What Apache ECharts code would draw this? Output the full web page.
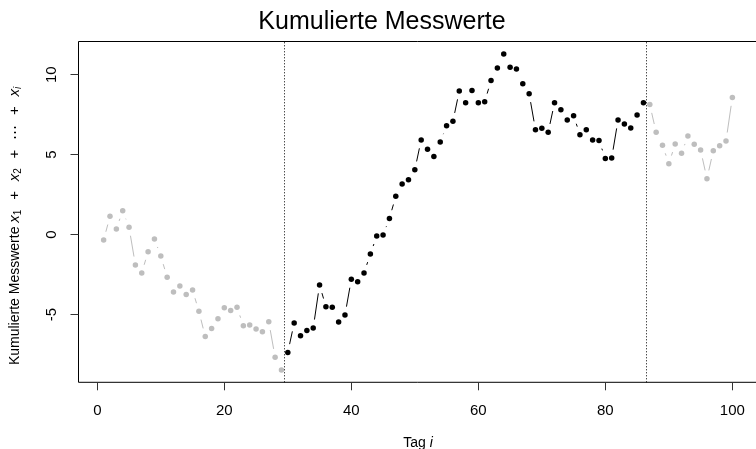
<!DOCTYPE html>
<html>
<head>
<meta charset="utf-8">
<script src="https://cdn.jsdelivr.net/npm/echarts@6/dist/echarts.min.js"></script>
<style>
html,body{margin:0;padding:0;background:#fff;}
#chart{width:756px;height:449px;}
</style>
</head>
<body>
<div id="chart"></div>
<script>
// ---- data ----
const kumuliert = [
  -0.33, 1.15, 0.36, 1.50, 0.46, -1.89, -2.39, -1.06, -0.27, -1.33,
  -2.66, -3.58, -3.21, -3.73, -3.46, -4.79, -6.37, -5.87, -5.25, -4.56,
  -4.73, -4.54, -5.69, -5.64, -5.89, -6.06, -5.44, -7.66, -8.46, -7.36,
  -5.52, -6.31, -5.98, -5.83, -3.14, -4.50, -4.54, -5.46, -5.02, -2.79,
  -2.94, -2.39, -1.21, -0.08, -0.02, 1.02, 2.40, 3.17, 3.44, 4.06,
  5.92, 5.34, 4.88, 5.79, 6.81, 7.09, 8.98, 8.25, 9.02, 8.25,
  8.31, 9.63, 10.42, 11.29, 10.46, 10.36, 9.44, 8.81, 6.56, 6.65,
  6.40, 8.25, 7.81, 7.17, 7.44, 6.25, 6.56, 5.92, 5.88, 4.77,
  4.79, 7.17, 6.92, 6.67, 7.48, 8.25, 8.13, 6.40, 5.59, 4.44,
  5.67, 5.09, 6.17, 5.65, 5.29, 3.50, 5.25, 5.56, 5.86, 8.58
];
const grenzen = [29.5, 86.5];          // dotted vertical lines
const xTicks = [0, 20, 40, 60, 80, 100];
const yTicks = [-5, 0, 5, 10];

// ---- build groups ----
const GRAY = '#BEBEBE', BLACK = '#000000';
const pts = kumuliert.map((v, i) => [i + 1, v]);
const inside = p => p[0] > grenzen[0] && p[0] < grenzen[1];
const groups = [
  { color: GRAY, data: pts.filter(p => p[0] < grenzen[0]) },
  { color: BLACK, data: pts.filter(inside) },
  { color: GRAY, data: pts.filter(p => p[0] > grenzen[1]) }
];
function segs(d) {
  const out = [];
  for (let k = 0; k < d.length - 1; k++) out.push([d[k][0], d[k][1], d[k + 1][0], d[k + 1][1]]);
  return out;
}
const GAP = 8.5;
function segRenderer(color) {
  return function (params, api) {
    const a = api.coord([api.value(0), api.value(1)]);
    const b = api.coord([api.value(2), api.value(3)]);
    const dx = b[0] - a[0], dy = b[1] - a[1];
    const d = Math.hypot(dx, dy);
    if (d <= 2 * GAP) return { type: 'group', children: [] };
    const ux = dx / d, uy = dy / d;
    return {
      type: 'line',
      shape: { x1: a[0] + ux * GAP, y1: a[1] + uy * GAP, x2: b[0] - ux * GAP, y2: b[1] - uy * GAP },
      style: { stroke: color, lineWidth: 1 }
    };
  };
}

const FONT = 'Liberation Sans, Arial, Helvetica, sans-serif';
const series = [];
groups.forEach((g, gi) => {
  series.push({
    type: 'custom',
    renderItem: segRenderer(g.color),
    data: segs(g.data),
    encode: { x: [0, 2], y: [1, 3] },
    silent: true,
    z: 2
  });
  const sc = {
    type: 'scatter',
    data: g.data,
    symbol: 'circle',
    symbolSize: 5.5,
    itemStyle: { color: g.color, opacity: 1 },
    silent: true,
    z: 3
  };
  if (gi === 1) {
    sc.markLine = {
      silent: true,
      symbol: 'none',
      label: { show: false },
      lineStyle: { type: [1, 2], color: '#000', width: 1 },
      data: grenzen.map(v => ({ xAxis: v }))
    };
  }
  series.push(sc);
});

const SP = '\u2002\u2009';
const PLUS = SP + '{m|+}' + SP;
const chart = echarts.init(document.getElementById('chart'), null, { renderer: 'canvas' });
chart.setOption({
  animation: false,
  backgroundColor: '#fff',
  textStyle: { fontFamily: FONT },
  title: {
    text: 'Kumulierte Messwerte',
    left: 377,
    textAlign: 'center',
    top: 5,
    textStyle: { fontFamily: FONT, fontSize: 25, fontWeight: 'normal', color: '#000' }
  },
  grid: {
    left: 78.5, top: 41.5, width: 679, height: 340.8,
    outerBoundsMode: 'none',
    containLabel: false,
    show: true, borderColor: '#000', borderWidth: 1, backgroundColor: 'transparent'
  },
  xAxis: {
    type: 'value',
    min: -2.96, max: 103.96,
    splitLine: { show: false },
    axisLine: { show: false, onZero: false },
    axisTick: { show: true, inside: false, length: 8, lineStyle: { color: '#333' }, customValues: xTicks },
    axisLabel: { customValues: xTicks, margin: 21, fontSize: 15, color: '#000', fontFamily: FONT },
    name: 'Tag {it|i}',
    nameLocation: 'middle',
    nameGap: 54,
    nameTextStyle: { fontSize: 14, color: '#000', fontFamily: FONT, rich: { it: { fontStyle: 'italic', fontSize: 14, fontFamily: FONT } } }
  },
  yAxis: {
    type: 'value',
    min: -9.225, max: 12.075,
    splitLine: { show: false },
    axisLine: { show: false, onZero: false },
    axisTick: { show: true, inside: false, length: 8, lineStyle: { color: '#333' }, customValues: yTicks },
    axisLabel: { customValues: yTicks, rotate: 90, margin: 19, fontSize: 15, color: '#000', fontFamily: FONT },
    name: 'Kumulierte Messwerte {it|x}{sub|1}' + PLUS + '{it|x}{sub|2}' + PLUS + '{m|⋯}' + PLUS + '{it|x}{subi|i}',
    nameLocation: 'middle',
    nameRotate: 90,
    nameGap: 55,
    nameTextStyle: {
      fontSize: 14, color: '#000', fontFamily: FONT, lineHeight: 17,
      padding: [0, 28, 0, 0],
      rich: {
        it: { fontStyle: 'italic', fontSize: 15, fontFamily: FONT, lineHeight: 17 },
        m: { fontSize: 15, fontFamily: FONT, lineHeight: 17 },
        sub: { fontSize: 10, fontFamily: FONT, lineHeight: 10, padding: [8, 0, 0, 0], verticalAlign: 'bottom' },
        subi: { fontSize: 10, fontStyle: 'italic', fontFamily: FONT, lineHeight: 10, padding: [8, 0, 0, 0], verticalAlign: 'bottom' }
      }
    }
  },
  series: series
});
</script>
</body>
</html>
